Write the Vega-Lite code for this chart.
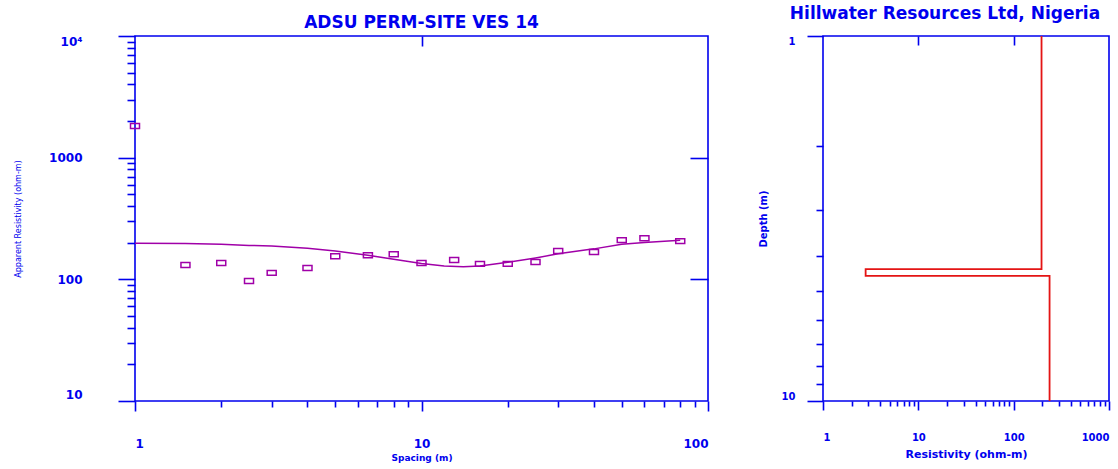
{
  "$schema": "https://vega.github.io/schema/vega-lite/v6.json",
  "padding": {"left": 13, "top": 4, "right": 0, "bottom": 0},
  "background": "white",
  "spacing": 47,
  "datasets": {
    "obs": [
      {"spacing": 1, "rho": 1820},
      {"spacing": 1.5, "rho": 131},
      {"spacing": 2, "rho": 136},
      {"spacing": 2.5, "rho": 97},
      {"spacing": 3, "rho": 113},
      {"spacing": 4, "rho": 124},
      {"spacing": 5, "rho": 155},
      {"spacing": 6.5, "rho": 158},
      {"spacing": 8, "rho": 161},
      {"spacing": 10, "rho": 136},
      {"spacing": 13, "rho": 144},
      {"spacing": 16, "rho": 134},
      {"spacing": 20, "rho": 134},
      {"spacing": 25, "rho": 139},
      {"spacing": 30, "rho": 171},
      {"spacing": 40, "rho": 168},
      {"spacing": 50, "rho": 210},
      {"spacing": 60, "rho": 218},
      {"spacing": 80, "rho": 206}
    ],
    "model": [
      {"spacing": 1, "rho": 198},
      {"spacing": 1.5, "rho": 197},
      {"spacing": 2, "rho": 194},
      {"spacing": 2.5, "rho": 190},
      {"spacing": 3, "rho": 188},
      {"spacing": 4, "rho": 180},
      {"spacing": 5, "rho": 171},
      {"spacing": 6.5, "rho": 158},
      {"spacing": 8, "rho": 146},
      {"spacing": 10, "rho": 135},
      {"spacing": 12, "rho": 129},
      {"spacing": 14, "rho": 127},
      {"spacing": 16, "rho": 129},
      {"spacing": 20, "rho": 138},
      {"spacing": 25, "rho": 150},
      {"spacing": 30, "rho": 162},
      {"spacing": 40, "rho": 178},
      {"spacing": 50, "rho": 194},
      {"spacing": 60, "rho": 201},
      {"spacing": 80, "rho": 210}
    ],
    "profile": [
      {"i": 1, "res": 196, "depth": 1},
      {"i": 2, "res": 196, "depth": 4.35},
      {"i": 3, "res": 2.8, "depth": 4.35},
      {"i": 4, "res": 2.8, "depth": 4.54},
      {"i": 5, "res": 238, "depth": 4.54},
      {"i": 6, "res": 238, "depth": 10}
    ]
  },
  "hconcat": [
    {
      "width": 573,
      "height": 365,
      "title": {"text": "ADSU PERM-SITE VES 14", "font": "DejaVu Sans", "fontSize": 17, "fontWeight": "bold", "color": "#0000ee", "offset": 3},
      "layer": [
        {
          "data": {"name": "obs"},
          "mark": {"type": "point", "shape": "M -1 -0.55 L 1 -0.55 L 1 0.55 L -1 0.55 Z", "filled": false, "size": 81, "strokeWidth": 1.5, "color": "#a000a8", "opacity": 1},
          "encoding": {
            "x": {
              "field": "spacing", "type": "quantitative",
              "scale": {"type": "log", "domain": [1, 100], "nice": false},
              "axis": {
                "orient": "bottom",
                "values": [1, 2, 3, 4, 5, 6, 7, 8, 9, 10, 20, 30, 40, 50, 60, 70, 80, 90, 100],
                "tickSize": {"condition": {"test": "indexof([1, 10, 100], datum.value) >= 0", "value": 10}, "value": 6},
                "labelExpr": "indexof([1, 10, 100], datum.value) >= 0 ? toString(datum.value) : ''",
                "labelFontSize": 12, "labelFontWeight": "bold", "labelPadding": 27, "labelFlush": true,
                "title": "Spacing (m)", "titleFontSize": 9, "titleFontWeight": "bold", "titleY": 52
              }
            },
            "y": {
              "field": "rho", "type": "quantitative",
              "scale": {"type": "log", "domain": [10, 10000], "nice": false},
              "axis": {
                "orient": "left",
                "values": [10, 20, 30, 40, 50, 60, 70, 80, 90, 100, 200, 300, 400, 500, 600, 700, 800, 900, 1000, 2000, 3000, 4000, 5000, 6000, 7000, 8000, 9000, 10000],
                "tickSize": {"condition": {"test": "indexof([10, 100, 1000, 10000], datum.value) >= 0", "value": 17}, "value": 8},
                "labelExpr": "datum.value == 10000 ? '10⁴' : (indexof([10, 100, 1000], datum.value) >= 0 ? toString(datum.value) : '')",
                "labelFontSize": 12, "labelFontWeight": "bold", "labelPadding": 36, "labelFlush": true,
                "title": "Apparent Resistivity (ohm-m)", "titleFontSize": 8, "titleFontWeight": "normal", "titleX": -113
              }
            }
          }
        },
        {
          "data": {"name": "model"},
          "mark": {"type": "line", "color": "#a000a8", "strokeWidth": 1.5},
          "encoding": {
            "x": {
              "field": "spacing", "type": "quantitative",
              "scale": {"type": "log", "domain": [1, 100], "nice": false},
              "axis": {"orient": "top", "values": [10], "tickSize": -10, "labels": false, "title": null}
            },
            "y": {
              "field": "rho", "type": "quantitative",
              "scale": {"type": "log", "domain": [10, 10000], "nice": false},
              "axis": {"orient": "right", "values": [100, 1000], "tickSize": -18, "labels": false, "title": null}
            }
          }
        }
      ],
      "resolve": {"scale": {"x": "independent", "y": "independent"}, "axis": {"x": "independent", "y": "independent"}}
    },
    {
      "width": 286,
      "height": 365,
      "title": {"text": "Hillwater Resources Ltd, Nigeria", "font": "DejaVu Sans", "fontSize": 17, "fontWeight": "bold", "color": "#0000ee", "offset": 9, "dx": -21},
      "data": {"name": "profile"},
      "layer": [
        {
          "mark": {"type": "line", "color": "#e41414", "strokeWidth": 1.8},
          "encoding": {
            "x": {
              "field": "res", "type": "quantitative",
              "scale": {"type": "log", "domain": [1, 1000], "nice": false},
              "axis": {
                "orient": "bottom",
                "values": [1, 2, 3, 4, 5, 6, 7, 8, 9, 10, 20, 30, 40, 50, 60, 70, 80, 90, 100, 200, 300, 400, 500, 600, 700, 800, 900, 1000],
                "tickSize": {"condition": {"test": "indexof([1, 10, 100, 1000], datum.value) >= 0", "value": 9}, "value": 5},
                "labelExpr": "indexof([1, 10, 100, 1000], datum.value) >= 0 ? toString(datum.value) : ''",
                "labelFontSize": 10, "labelFontWeight": "bold", "labelPadding": 22, "labelFlush": true,
                "title": "Resistivity (ohm-m)", "titleFontSize": 11, "titleFontWeight": "bold", "titleY": 47
              }
            },
            "y": {
              "field": "depth", "type": "quantitative",
              "scale": {"type": "log", "domain": [1, 10], "nice": false, "reverse": true},
              "axis": {
                "orient": "left",
                "values": [1, 2, 3, 4, 5, 6, 7, 8, 9, 10],
                "tickSize": {"condition": {"test": "indexof([1, 10], datum.value) >= 0", "value": 16}, "value": 7},
                "labelExpr": "indexof([1, 10], datum.value) >= 0 ? toString(datum.value) : ''",
                "labelFontSize": 10, "labelFontWeight": "bold", "labelPadding": 12, "labelFlush": true,
                "title": "Depth (m)", "titleFontSize": 10, "titleFontWeight": "bold", "titleX": -55
              }
            },
            "order": {"field": "i", "type": "quantitative"}
          }
        },
        {
          "mark": {"type": "line", "color": "#e41414", "strokeWidth": 1.8, "opacity": 0},
          "encoding": {
            "x": {
              "field": "res", "type": "quantitative",
              "scale": {"type": "log", "domain": [1, 1000], "nice": false},
              "axis": {"orient": "top", "values": [10, 100], "tickSize": -9, "labels": false, "title": null}
            },
            "y": {"field": "depth", "type": "quantitative"},
            "order": {"field": "i", "type": "quantitative"}
          }
        }
      ],
      "resolve": {"scale": {"x": "independent"}, "axis": {"x": "independent"}}
    }
  ],
  "config": {
    "font": "DejaVu Sans",
    "view": {"stroke": "#0000ee", "strokeWidth": 1.6},
    "axis": {
      "domain": false,
      "grid": false,
      "tickColor": "#0000ee",
      "tickWidth": 1.6,
      "labelColor": "#0000ee",
      "titleColor": "#0000ee",
      "labelFont": "DejaVu Sans",
      "titleFont": "DejaVu Sans"
    }
  }
}
